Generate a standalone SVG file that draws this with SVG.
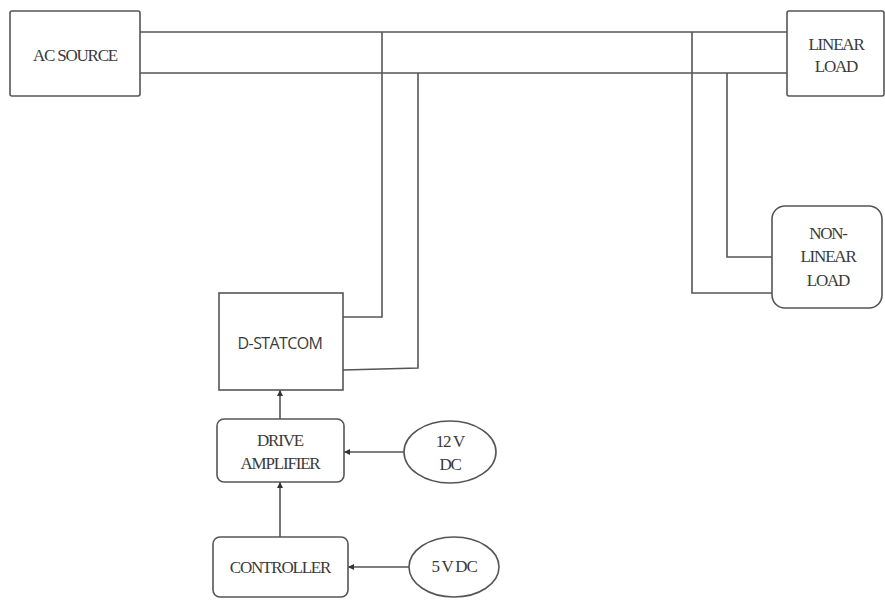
<svg xmlns="http://www.w3.org/2000/svg" width="885" height="600" viewBox="0 0 885 600">
<defs>
<marker id="ah" viewBox="0 0 10 10" refX="10" refY="5" markerWidth="6" markerHeight="6" orient="auto" markerUnits="userSpaceOnUse">
<path d="M0,0 L10,5 L0,10 z" fill="#333"/>
</marker>
<style>
.box{fill:#fff;stroke:#555;stroke-width:1.6}
.ln{fill:none;stroke:#555;stroke-width:1.6}
.t{font-family:'Liberation Serif','DejaVu Serif',serif;font-size:17px;fill:#3a3a3a;text-anchor:middle;letter-spacing:-1.2px}
.s{font-family:'Open Sans','Liberation Sans',sans-serif;font-size:16px;fill:#3a3a3a;text-anchor:middle;letter-spacing:-0.6px}
</style>
</defs>
<rect width="885" height="600" fill="#fff"/>
<g id="connectors">
<path class="ln" d="M140,32 H787"/>
<path class="ln" d="M140,73 H787"/>
<path class="ln" d="M343,317 H382 V32"/>
<path class="ln" d="M343,370 L418,368 V73"/>
<path class="ln" d="M692,32 V293 H772"/>
<path class="ln" d="M727,73 V257 H772"/>
<path class="ln" d="M280,419 V390" marker-end="url(#ah)"/>
<path class="ln" d="M280,537 V482" marker-end="url(#ah)"/>
<path class="ln" d="M404,452 H344" marker-end="url(#ah)"/>
<path class="ln" d="M409,567 H348" marker-end="url(#ah)"/>
</g>
<g id="ac-source">
<rect class="box" x="10" y="11" width="130" height="85" rx="2"/>
<text class="t" x="75" y="61">AC SOURCE</text>
</g>
<g id="linear-load">
<rect class="box" x="787" y="11" width="97" height="85" rx="2"/>
<text class="t" x="836" y="50">LINEAR</text>
<text class="t" x="836" y="72">LOAD</text>
</g>
<g id="non-linear-load">
<rect class="box" x="772" y="206" width="110" height="102" rx="13"/>
<text class="t" x="828" y="239">NON-</text>
<text class="t" x="828" y="262">LINEAR</text>
<text class="t" x="828" y="286">LOAD</text>
</g>
<g id="d-statcom">
<rect class="box" x="219" y="293" width="124" height="97"/>
<text class="s" x="280" y="349">D-STATCOM</text>
</g>
<g id="drive-amplifier">
<rect class="box" x="217" y="419" width="127" height="63" rx="7"/>
<text class="t" x="280" y="446">DRIVE</text>
<text class="t" x="280" y="469">AMPLIFIER</text>
</g>
<g id="dc12">
<ellipse class="box" cx="450" cy="452" rx="46" ry="31"/>
<text class="t" x="450" y="447">12 V</text>
<text class="t" x="450" y="470">DC</text>
</g>
<g id="controller">
<rect class="box" x="213" y="537" width="135" height="60" rx="7"/>
<text class="t" x="280" y="573">CONTROLLER</text>
</g>
<g id="dc5">
<ellipse class="box" cx="454" cy="567" rx="45" ry="30"/>
<text class="t" x="454" y="572">5 V DC</text>
</g>
</svg>
